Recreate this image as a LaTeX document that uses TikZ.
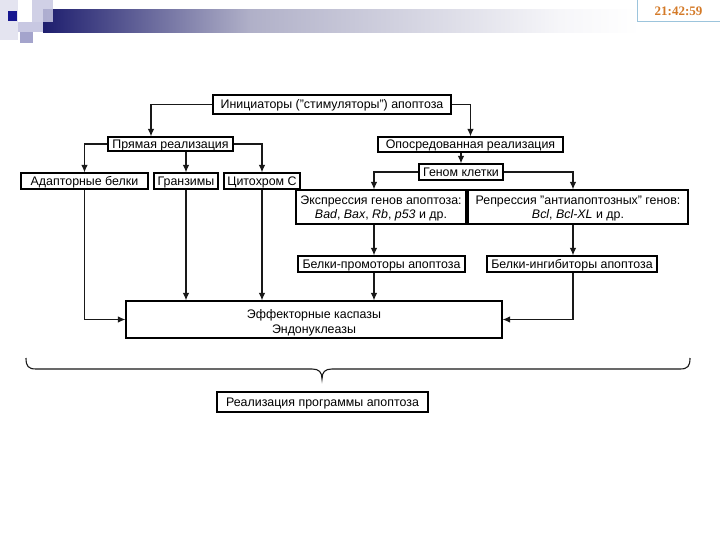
\documentclass[tikz,border=0pt]{standalone}
\usepackage{fontspec}
\setmainfont{Liberation Sans}
\newfontfamily\clockfont{Liberation Serif}
\usetikzlibrary{arrows.meta}
\definecolor{navyA}{HTML}{1E1E6E}
\definecolor{navyB}{HTML}{B0B0C8}
\definecolor{navyC}{HTML}{F6F6F9}
\definecolor{lavA}{HTML}{E4E4F0}
\definecolor{lavB}{HTML}{C8C8E2}
\definecolor{lavC}{HTML}{A4A4CC}
\definecolor{darkSq}{HTML}{161690}
\definecolor{clockBorder}{HTML}{9CC4DC}
\definecolor{clockText}{HTML}{D47A28}
\begin{document}
\begin{tikzpicture}[x=1pt,y=-1pt,
  box/.style={draw=black, line width=1.3pt, inner sep=0pt, text=black,
    font=\fontsize{12.4}{14.5}\selectfont, text height=9pt, text depth=0pt},
  box2/.style={draw=black, line width=1.3pt, inner sep=0pt, text=black,
    font=\fontsize{12.4}{14.5}\selectfont, align=center, text depth=0pt},
  ln/.style={draw=black!90, line width=1.1pt},
  arr/.style={ln, -{Latex[length=7.5pt,width=6.5pt]}}]
\useasboundingbox (0,0) rectangle (720,540);
\fill[white] (0,0) rectangle (720,540);
% header decoration
\fill[lavA] (0,0) rectangle (18,40);
\shade[left color=navyA, right color=navyB] (43,10) rectangle (250,33);
\shade[left color=navyB, right color=navyC] (250,10) rectangle (560,33);
\shade[left color=navyC, right color=white] (560,10) rectangle (640,33);
\fill[lavB, opacity=0.85] (32,0) rectangle (53,22);
\fill[lavB] (18,22) rectangle (43,32);
\fill[lavC] (20,32) rectangle (33,43);
\fill[darkSq] (8,11) rectangle (17,21);
\node[draw=clockBorder, line width=1pt, fill=white, minimum width=83pt,
  minimum height=22pt, inner sep=0pt] (clock) at (678.5,11)
  {\clockfont\bfseries\fontsize{13}{15}\selectfont\color{clockText}21:42:59};

% column coordinates
\coordinate (x151) at (151,0);
\coordinate (x374) at (374,0);
\coordinate (x573) at (573,0);

% boxes
\node[box, minimum width=238pt, minimum height=19pt] (init) at (332,104.5)
  {Инициаторы ("стимуляторы") апоптоза};
\node[box, minimum width=125pt, minimum height=14pt] (prjam) at (170.5,144)
  {Прямая реализация};
\node[box, minimum width=185pt, minimum height=15pt] (opos) at (470.5,144.5)
  {Опосредованная реализация};
\node[box, minimum width=127pt, minimum height=16pt] (adapt) at (84.5,181)
  {Адапторные белки};
\node[box, minimum width=64pt, minimum height=16pt] (granz) at (186,181)
  {Гранзимы};
\node[box, minimum width=76pt, minimum height=16pt] (cyto) at (262,181)
  {Цитохром С};
\node[box, minimum width=84pt, minimum height=16pt] (genom) at (461,172)
  {Геном клетки};
\node[box2, minimum width=170pt, minimum height=34pt] (expr) at (381,207)
  {Экспрессия генов апоптоза:\\\textit{Bad}, \textit{Bax}, \textit{Rb}, \textit{p53} и др.};
\node[box2, minimum width=220pt, minimum height=34pt] (repr) at (578,207)
  {Репрессия "антиапоптозных" генов:\\\textit{Bcl}, \textit{Bcl-XL} и др.};
\node[box, minimum width=167pt, minimum height=16pt] (promo) at (381.5,264)
  {Белки-промоторы апоптоза};
\node[box, minimum width=170pt, minimum height=16pt] (inhib) at (572,264)
  {Белки-ингибиторы апоптоза};
\node[box2, minimum width=376pt, minimum height=37pt, text height=28pt] (eff) at (314,319.5)
  {Эффекторные каспазы\\[0.5pt]Эндонуклеазы};
\node[box, minimum width=211pt, minimum height=20pt] (real) at (322.5,402)
  {Реализация программы апоптоза};

% connectors
\draw[arr] (init.west) -| (prjam.north -| x151);
\draw[arr] (init.east) -| (opos.north);
\draw[arr] (prjam.west) -| (adapt.north);
\draw[arr] (prjam.south -| granz.north) -- (granz.north);
\draw[arr] (prjam.east) -| (cyto.north);
\draw[arr] (opos.south -| genom.north) -- (genom.north);
\draw[arr] (genom.west) -| (expr.north -| x374);
\draw[arr] (genom.east) -| (repr.north -| x573);
\draw[arr] (expr.south -| x374) -- (promo.north -| x374);
\draw[arr] (repr.south -| x573) -- (inhib.north -| x573);
\draw[arr] (adapt.south) |- (eff.west);
\draw[arr] (granz.south) -- (eff.north -| granz.south);
\draw[arr] (cyto.south) -- (eff.north -| cyto.south);
\draw[arr] (promo.south -| x374) -- (eff.north -| x374);
\draw[arr] (inhib.south -| x573) |- (eff.east);

% brace
\draw[ln] (26,358) .. controls (26,366) and (28,369) .. (36,369)
  -- (312,369) .. controls (319,369) and (322,372) .. (322,379)
  .. controls (322,372) and (325,369) .. (332,369)
  -- (680,369) .. controls (688,369) and (690,366) .. (690,358);
\end{tikzpicture}
\end{document}
